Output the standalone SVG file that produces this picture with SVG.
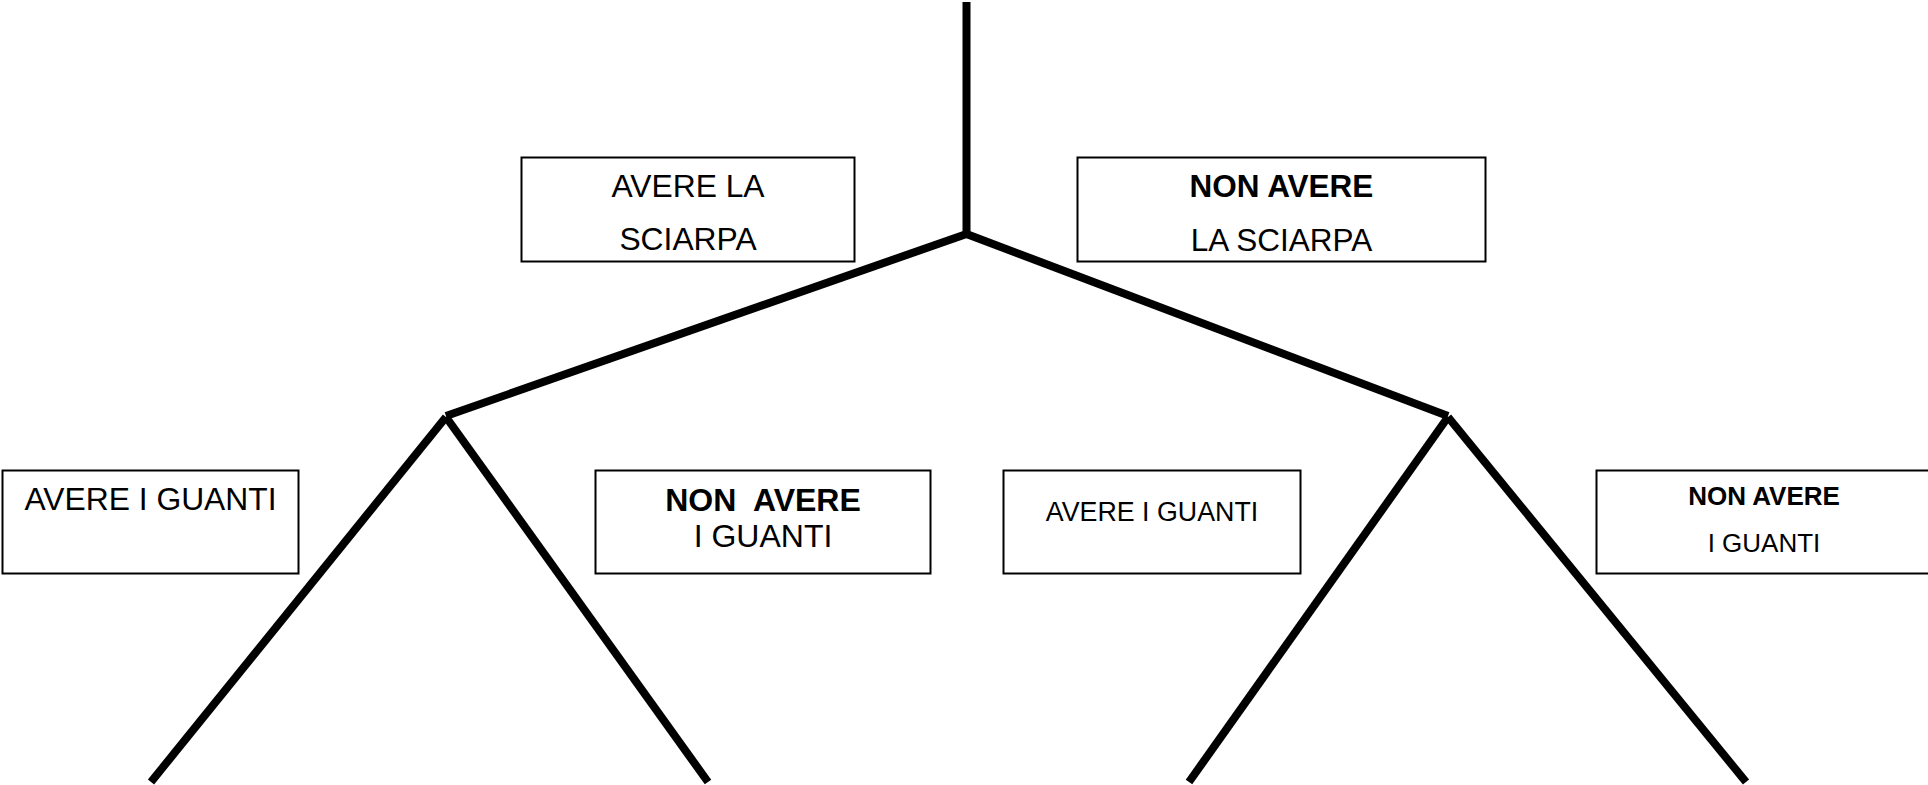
<svg xmlns="http://www.w3.org/2000/svg" width="1928" height="785" viewBox="0 0 1928 785">
<style>
  .box { fill: #ffffff; stroke: #000000; stroke-width: 2; }
  .t { font-family: "Liberation Sans", Arial, sans-serif; fill: #000000; text-anchor: middle; }
  .b { font-weight: bold; }
  .edge { stroke: #000000; stroke-width: 8; fill: none; stroke-linecap: butt; }
</style>
<rect x="0" y="0" width="1928" height="785" fill="#ffffff"/>
<g id="connectors">
  <line class="edge" x1="966.5" y1="2" x2="966.5" y2="235"/>
  <line class="edge" x1="966.5" y1="234" x2="446" y2="416"/>
  <line class="edge" x1="966.5" y1="234" x2="1448" y2="416"/>
  <line class="edge" x1="446" y1="417" x2="151" y2="782"/>
  <line class="edge" x1="446" y1="417" x2="708" y2="782"/>
  <line class="edge" x1="1448" y1="417" x2="1189" y2="782"/>
  <line class="edge" x1="1448" y1="417" x2="1746" y2="782"/>
</g>
<g id="node-avere-sciarpa">
  <rect class="box" x="521.5" y="157.5" width="333" height="104"/>
  <text class="t" x="688" y="197" font-size="31.8">AVERE LA</text>
  <text class="t" x="688" y="250" font-size="31.8">SCIARPA</text>
</g>
<g id="node-non-avere-sciarpa">
  <rect class="box" x="1077.5" y="157.5" width="408" height="104"/>
  <text class="t b" x="1281.5" y="197" font-size="31.5">NON AVERE</text>
  <text class="t" x="1281.5" y="251" font-size="31.5">LA SCIARPA</text>
</g>
<g id="node-avere-guanti-1">
  <rect class="box" x="2.5" y="470.5" width="296" height="103"/>
  <text class="t" x="150.5" y="510" font-size="31.8">AVERE I GUANTI</text>
</g>
<g id="node-non-avere-guanti-1">
  <rect class="box" x="595.5" y="470.5" width="335" height="103"/>
  <text class="t b" x="763" y="511" font-size="32" xml:space="preserve">NON  AVERE</text>
  <text class="t" x="763" y="547" font-size="32">I GUANTI</text>
</g>
<g id="node-avere-guanti-2">
  <rect class="box" x="1003.5" y="470.5" width="297" height="103"/>
  <text class="t" x="1152" y="521" font-size="26.8">AVERE I GUANTI</text>
</g>
<g id="node-non-avere-guanti-2">
  <rect class="box" x="1596.5" y="470.5" width="340" height="103"/>
  <text class="t b" x="1764" y="505" font-size="26">NON AVERE</text>
  <text class="t" x="1764" y="552" font-size="26">I GUANTI</text>
</g>
</svg>
